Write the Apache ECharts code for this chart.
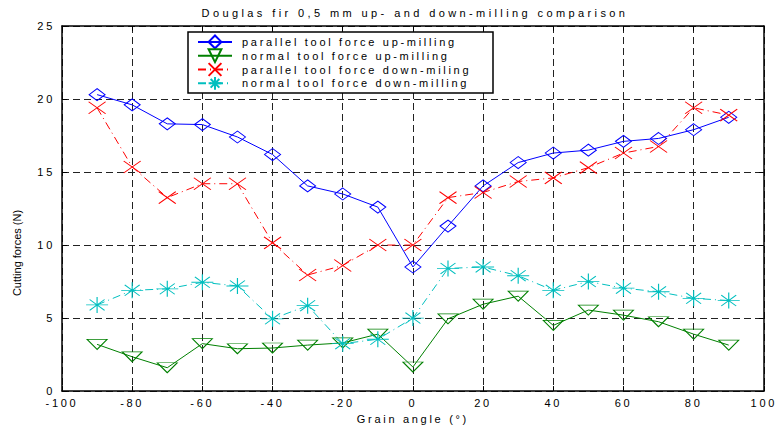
<!DOCTYPE html>
<html>
<head>
<meta charset="utf-8">
<script src="https://cdn.jsdelivr.net/npm/echarts@6/dist/echarts.min.js"></script>
<style>
  html, body { margin: 0; padding: 0; background: #ffffff; }
  #chart { width: 776px; height: 429px; }
  /* wide character spacing of the plot text */
  #chart text { letter-spacing: 2.7px; }
</style>
</head>
<body>
<div id="chart"></div>
<script>
// Grain angle (degrees) of each measurement
const grainAngles = [-90, -80, -70, -60, -50, -40, -30, -20, -10, 0, 10, 20, 30, 40, 50, 60, 70, 80, 90];

// Cutting forces (N)
const parallelUpMilling   = [20.3, 19.6, 18.3, 18.25, 17.4, 16.2, 14.05, 13.5, 12.6, 8.5, 11.3, 14.05, 15.65, 16.3, 16.5, 17.1, 17.3, 17.9, 18.75];
const normalUpMilling     = [3.2, 2.35, 1.6, 3.25, 2.9, 2.95, 3.15, 3.3, 3.9, 1.65, 4.95, 5.95, 6.5, 4.5, 5.55, 5.2, 4.75, 3.9, 3.15];
const parallelDownMilling = [19.4, 15.35, 13.25, 14.2, 14.2, 10.15, 7.95, 8.6, 10.0, 10.0, 13.25, 13.6, 14.35, 14.6, 15.3, 16.3, 16.75, 19.4, 18.9];
const normalDownMilling   = [5.9, 6.9, 7.0, 7.45, 7.2, 4.95, 5.85, 3.25, 3.55, 5.0, 8.4, 8.5, 7.9, 6.9, 7.5, 7.05, 6.8, 6.35, 6.2];

const seriesNames = [
  'parallel tool force up-milling',
  'normal tool force up-milling',
  'parallel tool force down-miling',
  'normal tool force down-milling'
];

const titleText = 'Douglas fir 0,5 mm up- and down-milling comparison';
const xAxisName = 'Grain angle (°)';
const yAxisName = 'Cutting forces (N)';

const FONT = "'Liberation Sans', Arial, Helvetica, sans-serif";
const BLUE = '#0000ff', GREEN = '#008000', RED = '#ff0000', CYAN = '#00bfbf';

const pairs = vals => grainAngles.map((a, i) => [a, vals[i]]);

const crossPath = 'path://M0,0L10,10M10,0L0,10';
const starPath = 'path://M0,5L10,5M5,0L5,10M1.6,1.6L8.4,8.4M1.6,8.4L8.4,1.6';

const gridDash = { color: '#222', width: 1, type: [7, 4] };
const dashDot = [8, 4, 1, 4];

function sideAxis(extra) {
  return Object.assign({
    type: 'value',
    axisLine: { show: true, onZero: false, lineStyle: { color: '#000', width: 1.5 } },
    axisTick: { show: true, inside: true, length: 5, lineStyle: { color: '#000', width: 1 } },
    axisLabel: { show: false },
    splitLine: { show: false }
  }, extra);
}

const option = {
  animation: false,
  backgroundColor: '#ffffff',
  grid: { left: 62, right: 12, top: 26, bottom: 36, containLabel: false },
  legend: {
    orient: 'vertical',
    left: 197,
    top: 34.5,
    padding: 0,
    itemGap: -1,
    itemWidth: 34,
    itemHeight: 16,
    symbolRotate: 'inherit',
    textStyle: { fontFamily: FONT, fontSize: 11, color: '#000', lineHeight: 14, padding: [0, 0, 0, 5] },
    data: seriesNames,
    z: 5
  },
  xAxis: [
    {
      type: 'value', min: -100, max: 100, interval: 20, position: 'bottom',
      name: xAxisName, nameLocation: 'middle', nameGap: 21,
      nameTextStyle: { fontFamily: FONT, fontSize: 11, color: '#000' },
      axisLine: { show: true, onZero: false, lineStyle: { color: '#000', width: 1.5 } },
      axisTick: { show: true, inside: true, length: 5, lineStyle: { color: '#000', width: 1 } },
      axisLabel: { fontFamily: FONT, fontSize: 11, color: '#000', margin: 6 },
      splitLine: { show: true, lineStyle: gridDash }
    },
    sideAxis({ min: -100, max: 100, interval: 20, position: 'top' })
  ],
  yAxis: [
    {
      type: 'value', min: 0, max: 25, interval: 5, position: 'left',
      axisLine: { show: true, onZero: false, lineStyle: { color: '#000', width: 1.5 } },
      axisTick: { show: true, inside: true, length: 5, lineStyle: { color: '#000', width: 1 } },
      axisLabel: { fontFamily: FONT, fontSize: 11, color: '#000', margin: 7 },
      splitLine: { show: true, lineStyle: gridDash }
    },
    sideAxis({ min: 0, max: 25, interval: 5, position: 'right' })
  ],
  graphic: [
    {
      type: 'text', x: 415, y: 13, z: 10,
      style: { text: titleText, fontFamily: FONT, fontSize: 11, fill: '#000', align: 'center', verticalAlign: 'middle' }
    },
    {
      type: 'text', x: 17, y: 253, rotation: Math.PI / 2, z: 10,
      style: { text: yAxisName, fontFamily: FONT, fontSize: 11, fill: '#000', align: 'center', verticalAlign: 'middle' }
    },
    {
      type: 'rect', z: 3,
      shape: { x: 188, y: 32, width: 305, height: 61 },
      style: { fill: '#fff', stroke: '#000', lineWidth: 1.5 }
    }
  ],
  series: [
    {
      name: seriesNames[0], type: 'line', data: pairs(parallelUpMilling),
      symbol: 'diamond', symbolSize: [16, 12], showAllSymbol: true,
      lineStyle: { color: BLUE, width: 1, type: 'solid' },
      itemStyle: { color: 'transparent', borderColor: BLUE, borderWidth: 1 },
      emphasis: { disabled: true }
    },
    {
      name: seriesNames[1], type: 'line', data: pairs(normalUpMilling),
      symbol: 'triangle', symbolRotate: 180, symbolSize: [20, 10], showAllSymbol: true,
      lineStyle: { color: GREEN, width: 1, type: 'solid' },
      itemStyle: { color: 'transparent', borderColor: GREEN, borderWidth: 1 },
      emphasis: { disabled: true }
    },
    {
      name: seriesNames[2], type: 'line', data: pairs(parallelDownMilling),
      symbol: crossPath, symbolSize: [17, 12], showAllSymbol: true,
      lineStyle: { color: RED, width: 1, type: dashDot },
      itemStyle: { color: 'transparent', borderColor: RED, borderWidth: 1 },
      emphasis: { disabled: true }
    },
    {
      name: seriesNames[3], type: 'line', data: pairs(normalDownMilling),
      symbol: starPath, symbolSize: [22, 16], showAllSymbol: true,
      lineStyle: { color: CYAN, width: 1, type: dashDot },
      itemStyle: { color: 'transparent', borderColor: CYAN, borderWidth: 1 },
      emphasis: { disabled: true }
    }
  ]
};

const chart = echarts.init(document.getElementById('chart'), null, { renderer: 'svg' });
chart.setOption(option);

// the rotated axis title is set without extra spacing, the title a little wider
function adjustTextSpacing() {
  document.querySelectorAll('#chart text').forEach(t => {
    if (t.textContent === yAxisName) t.style.letterSpacing = '0px';
    if (t.textContent === titleText) t.style.letterSpacing = '3.4px';
  });
}
chart.on('finished', adjustTextSpacing);
adjustTextSpacing();
</script>
</body>
</html>
